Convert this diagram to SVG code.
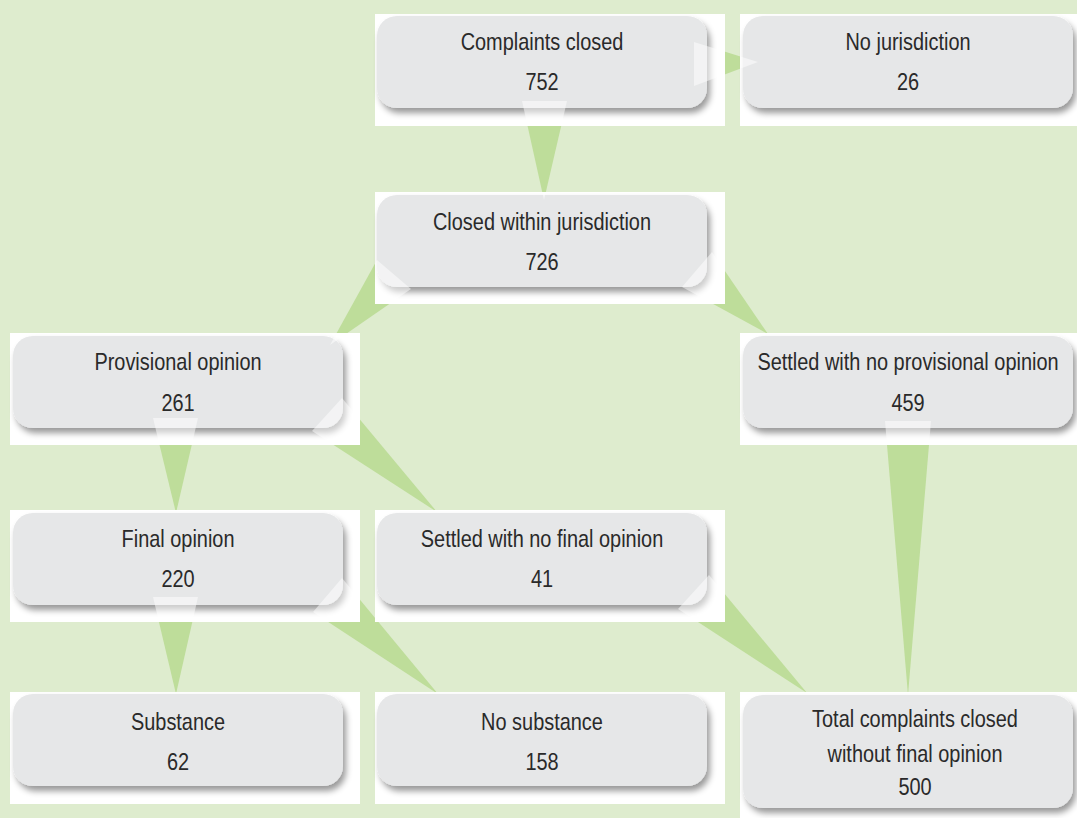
<svg xmlns="http://www.w3.org/2000/svg" width="1077" height="818" viewBox="0 0 1077 818">
<style>
.panel{fill:#ffffff}
.box{fill:#e6e7e8;filter:url(#sh)}
.t{font-family:"Liberation Sans",Arial,sans-serif;font-size:24px;fill:#2a2a2a;text-anchor:middle}
.c{fill:#bedd9a}
.ov{fill:#ffffff;fill-opacity:0.5}
</style>
<defs>
<filter id="sh" x="-10%" y="-10%" width="130%" height="140%">
<feDropShadow dx="3" dy="5" stdDeviation="3" flood-color="#000" flood-opacity="0.4"/>
</filter>
<clipPath id="panels">
<rect x="375" y="14" width="350" height="112"/>
<rect x="740" y="14" width="337" height="112"/>
<rect x="375" y="192" width="350" height="112"/>
<rect x="10" y="333" width="350" height="112"/>
<rect x="740" y="333" width="337" height="112"/>
<rect x="10" y="510" width="350" height="112"/>
<rect x="375" y="510" width="350" height="112"/>
<rect x="10" y="692" width="350" height="112"/>
<rect x="375" y="692" width="350" height="112"/>
<rect x="740" y="692" width="337" height="126"/>
</clipPath>
</defs>
<rect width="1077" height="818" fill="#deecce"/>
<g id="connectors">
<polygon class="c" points="694,42 694,86 758,62"/>
<polygon class="c" points="522,101 567,101 544,200"/>
<polygon class="c" points="377,260 411,289 330,345"/>
<polygon class="c" points="712,252 682,287 768,334"/>
<polygon class="c" points="153,418 198,418 176,513"/>
<polygon class="c" points="342,398 312,431 437,512"/>
<polygon class="c" points="885,421 931,421 908,695"/>
<polygon class="c" points="153,597 198,597 176,694"/>
<polygon class="c" points="342,578 313,612 438,694"/>
<polygon class="c" points="709,575 678,609 807,693"/>
</g>
<g id="n-complaints-closed">
<rect class="panel" x="375" y="14" width="350" height="112"/>
<rect class="box" x="377" y="16" width="330" height="92" rx="20"/>
<text class="t" transform="translate(542 50) scale(0.83 1)">Complaints closed</text>
<text class="t" transform="translate(542 90) scale(0.83 1)">752</text>
</g>
<g id="n-no-jurisdiction">
<rect class="panel" x="740" y="14" width="337" height="112"/>
<rect class="box" x="743" y="16" width="330" height="92" rx="20"/>
<text class="t" transform="translate(908 50) scale(0.83 1)">No jurisdiction</text>
<text class="t" transform="translate(908 90) scale(0.83 1)">26</text>
</g>
<g id="n-closed-within">
<rect class="panel" x="375" y="192" width="350" height="112"/>
<rect class="box" x="377" y="195" width="330" height="92" rx="20"/>
<text class="t" transform="translate(542 230) scale(0.83 1)">Closed within jurisdiction</text>
<text class="t" transform="translate(542 270) scale(0.83 1)">726</text>
</g>
<g id="n-provisional">
<rect class="panel" x="10" y="333" width="350" height="112"/>
<rect class="box" x="13" y="336" width="330" height="92" rx="20"/>
<text class="t" transform="translate(178 370) scale(0.83 1)">Provisional opinion</text>
<text class="t" transform="translate(178 411) scale(0.83 1)">261</text>
</g>
<g id="n-settled-no-provisional">
<rect class="panel" x="740" y="333" width="337" height="112"/>
<rect class="box" x="743" y="336" width="330" height="92" rx="20"/>
<text class="t" transform="translate(908 370) scale(0.83 1)">Settled with no provisional opinion</text>
<text class="t" transform="translate(908 411) scale(0.83 1)">459</text>
</g>
<g id="n-final">
<rect class="panel" x="10" y="510" width="350" height="112"/>
<rect class="box" x="13" y="513" width="330" height="92" rx="20"/>
<text class="t" transform="translate(178 547) scale(0.83 1)">Final opinion</text>
<text class="t" transform="translate(178 587) scale(0.83 1)">220</text>
</g>
<g id="n-settled-no-final">
<rect class="panel" x="375" y="510" width="350" height="112"/>
<rect class="box" x="377" y="513" width="330" height="92" rx="20"/>
<text class="t" transform="translate(542 547) scale(0.83 1)">Settled with no final opinion</text>
<text class="t" transform="translate(542 587) scale(0.83 1)">41</text>
</g>
<g id="n-substance">
<rect class="panel" x="10" y="692" width="350" height="112"/>
<rect class="box" x="13" y="694" width="330" height="92" rx="20"/>
<text class="t" transform="translate(178 730) scale(0.83 1)">Substance</text>
<text class="t" transform="translate(178 770) scale(0.83 1)">62</text>
</g>
<g id="n-no-substance">
<rect class="panel" x="375" y="692" width="350" height="112"/>
<rect class="box" x="377" y="694" width="330" height="92" rx="20"/>
<text class="t" transform="translate(542 730) scale(0.83 1)">No substance</text>
<text class="t" transform="translate(542 770) scale(0.83 1)">158</text>
</g>
<g id="n-total">
<rect class="panel" x="740" y="692" width="337" height="126"/>
<rect class="box" x="743" y="695" width="330" height="113" rx="20"/>
<text class="t" transform="translate(915 727) scale(0.83 1)">Total complaints closed</text>
<text class="t" transform="translate(915 762) scale(0.83 1)">without final opinion</text>
<text class="t" transform="translate(915 795) scale(0.83 1)">500</text>
</g>
<g id="connector-overlays" clip-path="url(#panels)">
<polygon class="ov" points="694,42 694,86 758,62"/>
<polygon class="ov" points="522,101 567,101 544,200"/>
<polygon class="ov" points="377,260 411,289 330,345"/>
<polygon class="ov" points="712,252 682,287 768,334"/>
<polygon class="ov" points="153,418 198,418 176,513"/>
<polygon class="ov" points="342,398 312,431 437,512"/>
<polygon class="ov" points="885,421 931,421 908,695"/>
<polygon class="ov" points="153,597 198,597 176,694"/>
<polygon class="ov" points="342,578 313,612 438,694"/>
<polygon class="ov" points="709,575 678,609 807,693"/>
</g>
</svg>
